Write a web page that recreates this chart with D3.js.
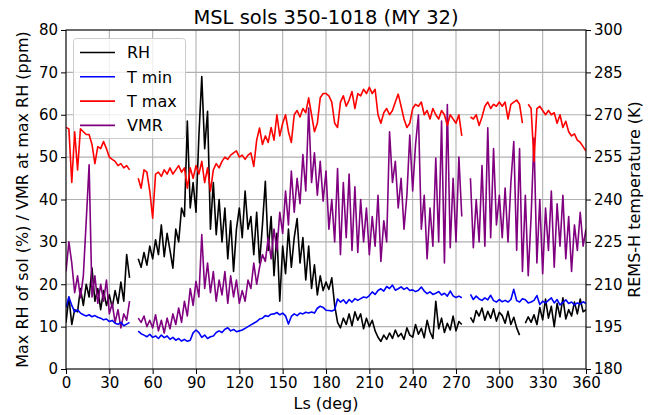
<!DOCTYPE html>
<html><head><meta charset="utf-8">
<script src="https://cdn.jsdelivr.net/npm/d3@7"></script>
<style>body{margin:0;background:#fff} svg{display:block} text{font-family:"DejaVu Sans",sans-serif}</style>
</head><body><svg id="c" width="654" height="415"></svg>
<script>
const ls = [0,2,4,6,8,10,12,14,16,18,20,22,24,26,28,30,32,34,36,38,40,42,44,46,48,50,52,54,56,58,60,62,64,66,68,70,72,74,76,78,80,82,84,86,88,90,92,94,96,98,100,102,104,106,108,110,112,114,116,118,120,122,124,126,128,130,132,134,136,138,140,142,144,146,148,150,152,154,156,158,160,162,164,166,168,170,172,174,176,178,180,182,184,186,188,190,192,194,196,198,200,202,204,206,208,210,212,214,216,218,220,222,224,226,228,230,232,234,236,238,240,242,244,246,248,250,252,254,256,258,260,262,264,266,268,270,272,274,276,278,280,282,284,286,288,290,292,294,296,298,300,302,304,306,308,310,312,314,316,318,320,322,324,326,328,330,332,334,336,338,340,342,344,346,348,350,352,354,356,358,360];

const rh = [11,17,10.5,14,13.5,19,15,20,17,23.8,16,19,14,18.5,15,17.5,14.5,18.5,15.5,20.5,16,27,21.5,null,null,26,24,27.5,24.5,29,26,30.5,27,34,26.5,32,28,23.8,33,30,38,36,58.5,38,44,37,55,69,52,60.8,33,44,31.7,40,30,38,26,35,23,33,38,31,42,33,36,27,37,25,34,44.3,28,36,22,32,16,29,22.5,33,24,31,35.5,25,31,21,29,19,24.6,17.5,22,18.5,20.5,18.8,21.5,15,11,9.7,12,10.5,13,10.2,13.5,11.5,13,9.5,12,10,11.5,9,7.5,6.5,8,7,8.5,7.2,9.2,7.6,8.4,7,9.7,8,7.5,10.5,8.2,9.6,7.4,11.5,8.8,7.2,16,9.5,12,8.6,10.8,9.2,12.5,9,11.2,10.5,null,null,12.2,11,13.8,12.5,14.4,11.5,13.6,12,14.2,11.3,13.4,12.6,10.8,13.6,10.5,12.2,9.7,8,null,10.8,12.3,11,12.8,10.5,14.5,11.6,16.5,12,14.8,10,15.5,12.3,16.8,11.8,14,12.5,15.8,13,16.5,13.5,14];

const vmr = [23,30,25,18,22,16.8,22,34.9,48.2,17,22,15.5,20,16,21,13,15.5,11,14,9.7,13,11.5,16,null,null,12,11,12.5,10,11.5,9.7,12.8,9,11.5,8.5,12,9.5,13,10.5,14.4,11,16,12.5,19,15,20.7,17,31.7,19,25,18,23,16,21,17.5,23,15.5,22,17,21,15.5,18.5,16,21,19,25,20,24,27,25.4,31,26,33,28,37,32,42,34,46.7,37,45,39,50.6,42,61.6,44,51,41,49,39.6,46.7,33,40,30,47.3,27,44,31,46,28,43,27.5,40,30,38,27,36,29,41,25.4,35,30,56,44,49,38,45,33,41,55.2,42,53,60,33,41,26,38,29,49.8,30,58.5,25,62.4,28.6,45,30,50,36,null,null,45,28.6,40,30,48,29,56.9,31,52,34,41,31,42.7,30,44,53.7,28,52,23,41,22,36,54.5,25,40,22.5,38,28,42,24,39,29,41,26,36,23,34,28,37,29,33];

const tmin = [201.8,205.5,202.5,200.2,201,199.8,199.2,198.8,199.2,198.5,198.9,198.3,198,197.4,197.7,196.8,197.2,196.2,195.8,196.5,195.3,195.9,196.5,null,null,193.4,192.5,192,191.4,192.3,191.2,191.7,190.8,192,191.1,191.7,190.5,191.2,190.2,190.8,189.9,190.5,189.8,190.2,192.8,193.8,192.9,191.2,192,190.8,191.4,191.7,192.9,193.5,192.9,194.1,194.6,193.5,194,193.2,193.5,193.8,194.4,195,195.6,196.2,196.8,197.7,198,198.9,198.6,199.4,199.5,200,199.2,199.8,198.8,195.9,198.6,199.5,198.9,199.8,199.5,200.1,199.8,200.2,199.8,201.5,202.2,201.8,200.8,200.7,200.5,201,204.8,203.7,204.5,203.2,204.6,203.7,204.9,204.3,204.9,205.5,205.2,206,207.3,206.4,207.8,208.4,207.6,209.2,208.5,209.7,207.9,208.4,209.1,208.2,208.8,207.8,208,207.4,207.9,209,207.6,206.7,207.3,206.4,206.8,207.4,206.2,206.8,205.8,207.6,205.9,205.3,205.8,205.2,null,null,206.4,204.6,205.8,204.8,204.3,205.2,204.5,206.1,204.2,203.7,204.6,203.8,204.3,203.7,204.6,208.2,204.2,203.7,204.9,204.5,203.4,203.7,204.3,206,202.8,204,203.4,204.3,205.2,203.4,204.6,202.7,203.6,204.5,203.2,203.7,202.7,203.4,203,203.8,203.2];

const tmax = [265.5,265,246,264,250.5,265,264,263,263,259.5,252.7,258.7,258,260.5,258,255,254.2,253.5,252,252.7,251.2,252,250.5,null,null,247.5,244,250.5,249.7,243,233.4,249,249.7,248.2,250.5,249,251.2,249,250.5,252,249.7,251.2,244,251.2,247.5,252,249,253.5,246,251.2,243,250.5,252.7,251.2,253.5,255,254.2,255.7,256.5,257.2,255,255.7,254.2,255.7,256.5,251.7,261,265.3,259.5,262.5,260.2,265.5,261,270,262.5,267,270,264,260.2,270,271.5,269.2,272.2,270.7,276,270,264,267,276,277.5,277.5,276.7,274.5,267,265.5,274.5,276.7,273,275.2,278.2,272.2,277.5,276.7,279,277.5,279.7,277.5,279,270,267,270.7,272.2,270,271.5,274.5,277.3,273,268.5,265.5,267,272.2,273.7,273,274.5,270,271.5,268.5,272.2,270,268.5,271.5,270,266.2,270,268.5,267,270,262.5,null,null,269.2,268.5,270,266.2,269.2,273,274.5,272.2,273.7,273,274.5,273,274.5,268.5,273.7,274.5,275.2,273.7,267,null,273.7,272.2,253.5,272.2,273,271.5,270,271.5,270,270.7,267,270,265.5,267.7,264,262.5,263.2,261,260.2,258.7,257.1];

const xTicks = [0,30,60,90,120,150,180,210,240,270,300,330,360];
const yLeftTicks = [0,10,20,30,40,50,60,70,80];
const yRightTicks = [180,195,210,225,240,255,270,285,300];
const names = ["RH","T min","T max","VMR"];
const colors = ["#000000","#0000ff","#ff0000","#800080"];

const svg = d3.select("#c");
const m = {l:66, r:586, t:30, b:369};
const x = d3.scaleLinear().domain([0,360]).range([m.l,m.r]);
const yL = d3.scaleLinear().domain([0,80]).range([m.b,m.t]);
const yR = d3.scaleLinear().domain([180,300]).range([m.b,m.t]);

// grid
const g = svg.append("g");
g.selectAll(".gx").data(xTicks).join("line")
  .attr("x1",d=>x(d)).attr("x2",d=>x(d)).attr("y1",m.t).attr("y2",m.b)
  .attr("stroke","#b0b0b0").attr("stroke-width",1.1);
g.selectAll(".gy").data(yLeftTicks).join("line")
  .attr("x1",m.l).attr("x2",m.r).attr("y1",d=>yL(d)).attr("y2",d=>yL(d))
  .attr("stroke","#b0b0b0").attr("stroke-width",1.1);

function lineFor(arr, y){
  return d3.line().defined((d,i)=>arr[i]!=null).x((d,i)=>x(ls[i])).y((d,i)=>y(arr[i]))(arr);
}
const clip = svg.append("clipPath").attr("id","cp").append("rect")
  .attr("x",m.l).attr("y",m.t).attr("width",m.r-m.l).attr("height",m.b-m.t);
const plot = svg.append("g").attr("clip-path","url(#cp)");
plot.append("path").attr("d",lineFor(rh,yL)).attr("fill","none").attr("stroke",colors[0]).attr("stroke-width",1.6).attr("stroke-linejoin","round");
plot.append("path").attr("d",lineFor(vmr,yL)).attr("fill","none").attr("stroke",colors[3]).attr("stroke-width",1.6).attr("stroke-linejoin","round");

// legend
const lg = svg.append("g");
lg.append("rect").attr("x",73.5).attr("y",38.5).attr("width",112).attr("height",100).attr("rx",3)
  .attr("fill","#fff").attr("fill-opacity",0.8).attr("stroke","#cccccc");
names.forEach((n,i)=>{
  const yy = 52.5 + i*24.3;
  lg.append("line").attr("x1",80).attr("x2",115).attr("y1",yy).attr("y2",yy).attr("stroke",colors[i]).attr("stroke-width",1.6);
  lg.append("text").attr("x",127).attr("y",yy).attr("dy","0.36em").attr("font-size",16).text(n);
});

const plot2 = svg.append("g").attr("clip-path","url(#cp)");
plot2.append("path").attr("d",lineFor(tmin,yR)).attr("fill","none").attr("stroke",colors[1]).attr("stroke-width",1.6).attr("stroke-linejoin","round");
plot2.append("path").attr("d",lineFor(tmax,yR)).attr("fill","none").attr("stroke",colors[2]).attr("stroke-width",1.6).attr("stroke-linejoin","round");

// frame
svg.append("rect").attr("x",m.l).attr("y",m.t).attr("width",m.r-m.l).attr("height",m.b-m.t)
  .attr("fill","none").attr("stroke","#000").attr("stroke-width",1);

// axes
const ax = svg.append("g").attr("transform",`translate(0,${m.b})`)
  .call(d3.axisBottom(x).tickValues(xTicks).tickSize(5).tickPadding(3).tickFormat(d3.format("d")));
const ayl = svg.append("g").attr("transform",`translate(${m.l},0)`)
  .call(d3.axisLeft(yL).tickValues(yLeftTicks).tickSize(5).tickPadding(3).tickFormat(d3.format("d")));
const ayr = svg.append("g").attr("transform",`translate(${m.r},0)`)
  .call(d3.axisRight(yR).tickValues(yRightTicks).tickSize(5).tickPadding(3).tickFormat(d3.format("d")));
[ax,ayl,ayr].forEach(a=>{
  a.select(".domain").remove();
  a.selectAll("text").attr("font-size",15).attr("font-family","DejaVu Sans").attr("fill","#000");
  a.selectAll("line").attr("stroke","#000");
});

svg.append("text").attr("x",(m.l+m.r)/2).attr("y",24).attr("text-anchor","middle")
  .attr("font-size",19.5).text("MSL sols 350-1018 (MY 32)");
svg.append("text").attr("x",(m.l+m.r)/2).attr("y",409).attr("text-anchor","middle")
  .attr("font-size",16).text("Ls (deg)");
svg.append("text").attr("transform",`translate(28,${(m.t+m.b)/2}) rotate(-90)`).attr("text-anchor","middle")
  .attr("font-size",16).text("Max RH of sol (%) / VMR at max RH (ppm)");
svg.append("text").attr("transform",`translate(640,${(m.t+m.b)/2}) rotate(-90)`).attr("text-anchor","middle")
  .attr("font-size",16).text("REMS-H temperature (K)");
</script></body></html>
